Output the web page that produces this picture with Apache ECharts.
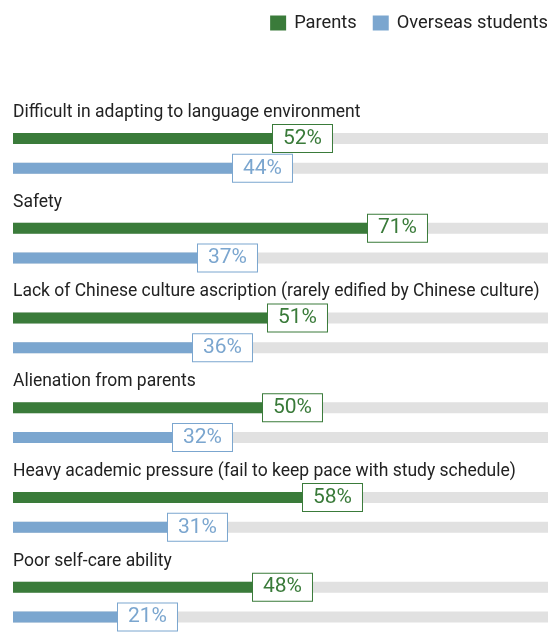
<!DOCTYPE html>
<html><head><meta charset="utf-8">
<script src="https://cdn.jsdelivr.net/npm/echarts@6/dist/echarts.min.js"></script>
<style>html,body{margin:0;padding:0;background:#fff}#c{width:560px;height:632px}</style>
</head><body><div id="c"></div>
<script>
const categories = [
  'Difficult in adapting to language environment',
  'Safety',
  'Lack of Chinese culture ascription (rarely edified by Chinese culture)',
  'Alienation from parents',
  'Heavy academic pressure (fail to keep pace with study schedule)',
  'Poor self-care ability'
];
const parents = [52, 71, 51, 50, 58, 48];
const students = [44, 37, 36, 32, 31, 21];
const seriesNames = ['Parents', 'Overseas students'];

const AXIS_MAX = 107;
const GREEN = '#3a7b3a', BLUE = '#7ba6cf', TRACK = '#e1e1e1';
const FONT = 'Roboto';

// three slots per category: title, parents bar, students bar
const slots = [], pData = [], sData = [], tData = [];
categories.forEach((c, i) => {
  slots.push(c); pData.push('-'); sData.push('-'); tData.push('-');
  slots.push(''); pData.push(parents[i]); sData.push('-'); tData.push(AXIS_MAX);
  slots.push(''); pData.push('-'); sData.push(students[i]); tData.push(AXIS_MAX);
});

function lbl(color) {
  return {
    show: true, position: 'right', distance: 0,
    formatter: '{c}%', color: color, fontFamily: FONT, fontSize: 21,
    backgroundColor: '#fff', borderColor: color, borderWidth: 1,
    padding: [3, 10, 2, 10], lineHeight: 22
  };
}

const chart = echarts.init(document.getElementById('c'));
chart.setOption({
  animation: false,
  textStyle: { fontFamily: FONT },
  legend: {
    data: seriesNames, right: 7, top: 9, itemWidth: 16, itemHeight: 15, itemGap: 16,
    icon: 'rect', textStyle: { fontSize: 18.3, color: '#222', fontFamily: FONT, padding: [0, 0, 0, 3] }
  },
  grid: { left: 13, width: 535, top: 93.5, height: 542.7 },
  xAxis: { type: 'value', min: 0, max: AXIS_MAX, show: false },
  yAxis: {
    type: 'category', inverse: true, data: slots,
    axisLine: { show: false }, axisTick: { show: false }, splitLine: { show: false },
    axisLabel: {
      inside: true, margin: 0, interval: 0,
      formatter: v => v ? '{t|' + v + '}' : '',
      rich: { t: { color: '#222', fontSize: 17.5, fontFamily: FONT, padding: [8, 0, 0, 0] } }
    }
  },
  series: [
    { type: 'bar', name: 'track', data: tData, barWidth: 11, barGap: '-100%', itemStyle: { color: TRACK }, silent: true, z: 1 },
    { type: 'bar', name: seriesNames[0], data: pData, barWidth: 11, barGap: '-100%', itemStyle: { color: GREEN }, label: lbl(GREEN), z: 2 },
    { type: 'bar', name: seriesNames[1], data: sData, barWidth: 11, barGap: '-100%', itemStyle: { color: BLUE }, label: lbl(BLUE), z: 2 }
  ]
});
</script></body></html>
